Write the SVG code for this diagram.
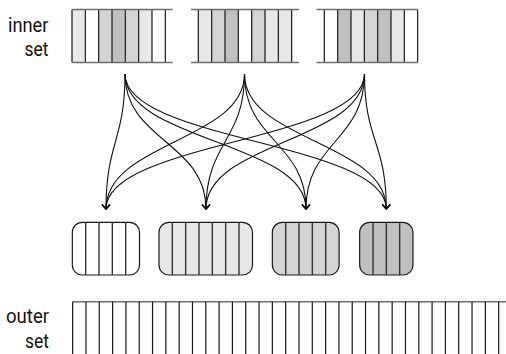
<svg xmlns="http://www.w3.org/2000/svg" width="506" height="354" viewBox="0 0 506 354">
<style>
.lbl{font-family:Roboto,"Liberation Sans",sans-serif;font-size:20px;fill:#111}
.hl{stroke:#6e6e6e;stroke-width:1.6;fill:none}
.vl{stroke:#1a1a1a;stroke-width:1.2;fill:none}
.c0{fill:#ffffff}.c1{fill:#e8e8e8}.c2{fill:#d4d4d4}.c3{fill:#c0c0c0}
.bx{stroke:#1a1a1a;stroke-width:1.2}
.bl{stroke:#333;stroke-width:1.4}
.edge{stroke:#111;stroke-width:1.1;fill:none;marker-end:url(#ah)}
</style>
<defs>
<marker id="ah" markerUnits="userSpaceOnUse" markerWidth="12" markerHeight="12" viewBox="-6 -6 12 12" refX="0" refY="0" orient="auto">
<path d="M-4.5,-4 L0,0 L-4.5,4" fill="none" stroke="#111" stroke-width="1.3"/>
</marker>
</defs>

<text class="lbl" x="48.5" y="31.7" text-anchor="end" textLength="40.5" lengthAdjust="spacingAndGlyphs">inner</text>
<text class="lbl" x="48.5" y="56.2" text-anchor="end" textLength="24" lengthAdjust="spacingAndGlyphs">set</text>
<text class="lbl" x="49" y="323.3" text-anchor="end" textLength="43" lengthAdjust="spacingAndGlyphs">outer</text>
<text class="lbl" x="49" y="347.8" text-anchor="end" textLength="24" lengthAdjust="spacingAndGlyphs">set</text>

<g id="inner1">
<rect class="c1" x="72" y="9.5" width="13.33" height="53"/>
<rect class="c0" x="85.33" y="9.5" width="13.33" height="53"/>
<rect class="c2" x="98.67" y="9.5" width="13.33" height="53"/>
<rect class="c3" x="112" y="9.5" width="13.33" height="53"/>
<rect class="c2" x="125.33" y="9.5" width="13.33" height="53"/>
<rect class="c1" x="138.67" y="9.5" width="13.33" height="53"/>
<rect class="c0" x="152" y="9.5" width="13.33" height="53"/>
<path class="vl" d="M72,9.5V62.5M85.33,9.5V62.5M98.67,9.5V62.5M112,9.5V62.5M125.33,9.5V62.5M138.67,9.5V62.5M152,9.5V62.5M165.33,9.5V62.5"/>
<path class="hl" d="M72,9.5H172.7M72,62.5H172.7"/>
</g>

<g id="inner2">
<rect class="c1" x="198.33" y="9.5" width="13.33" height="53"/>
<rect class="c2" x="211.67" y="9.5" width="13.33" height="53"/>
<rect class="c3" x="225" y="9.5" width="13.33" height="53"/>
<rect class="c0" x="238.33" y="9.5" width="13.33" height="53"/>
<rect class="c2" x="251.67" y="9.5" width="13.33" height="53"/>
<rect class="c1" x="265" y="9.5" width="13.33" height="53"/>
<rect class="c1" x="278.33" y="9.5" width="13.33" height="53"/>
<path class="vl" d="M198.33,9.5V62.5M211.67,9.5V62.5M225,9.5V62.5M238.33,9.5V62.5M251.67,9.5V62.5M265,9.5V62.5M278.33,9.5V62.5M291.67,9.5V62.5"/>
<path class="hl" d="M191,9.5H299M191,62.5H299"/>
</g>

<g id="inner3">
<rect class="c0" x="324.33" y="9.5" width="13.33" height="53"/>
<rect class="c3" x="337.67" y="9.5" width="13.33" height="53"/>
<rect class="c1" x="351" y="9.5" width="13.33" height="53"/>
<rect class="c2" x="364.33" y="9.5" width="13.33" height="53"/>
<rect class="c3" x="377.67" y="9.5" width="13.33" height="53"/>
<rect class="c1" x="391" y="9.5" width="13.33" height="53"/>
<rect class="c0" x="404.33" y="9.5" width="13.33" height="53"/>
<path class="vl" d="M324.33,9.5V62.5M337.67,9.5V62.5M351,9.5V62.5M364.33,9.5V62.5M377.67,9.5V62.5M391,9.5V62.5M404.33,9.5V62.5M417.67,9.5V62.5"/>
<path class="hl" d="M316.7,9.5H417.67M316.7,62.5H417.67"/>
</g>

<g id="edges">
<path class="edge" d="M125,74 C125,141 106,142 106,209"/>
<path class="edge" d="M125,74 C125,141 206,142 206,209"/>
<path class="edge" d="M125,74 C125,141 306,142 306,209"/>
<path class="edge" d="M125,74 C125,141 386.3,142 386.3,209"/>
<path class="edge" d="M244.5,74 C244.5,141 106,142 106,209"/>
<path class="edge" d="M244.5,74 C244.5,141 206,142 206,209"/>
<path class="edge" d="M244.5,74 C244.5,141 306,142 306,209"/>
<path class="edge" d="M244.5,74 C244.5,141 386.3,142 386.3,209"/>
<path class="edge" d="M364.5,74 C364.5,141 106,142 106,209"/>
<path class="edge" d="M364.5,74 C364.5,141 206,142 206,209"/>
<path class="edge" d="M364.5,74 C364.5,141 306,142 306,209"/>
<path class="edge" d="M364.5,74 C364.5,141 386.3,142 386.3,209"/>
</g>

<g id="bucketA">
<rect class="c0 bx" x="72.33" y="222.3" width="67.2" height="52.7" rx="10"/>
<path class="bl" d="M85.67,222.3V275M99,222.3V275M112.33,222.3V275M125.67,222.3V275"/>
</g>
<g id="bucketB">
<rect class="c1 bx" x="159" y="222.3" width="93.5" height="52.7" rx="10"/>
<path class="bl" d="M172.33,222.3V275M185.67,222.3V275M199,222.3V275M212.33,222.3V275M225.67,222.3V275M239,222.3V275"/>
</g>
<g id="bucketC">
<rect class="c2 bx" x="272.33" y="222.3" width="66.8" height="52.7" rx="10"/>
<path class="bl" d="M285.67,222.3V275M299,222.3V275M312.33,222.3V275M325.67,222.3V275"/>
</g>
<g id="bucketD">
<rect class="c3 bx" x="359.67" y="222.3" width="53.3" height="52.7" rx="10"/>
<path class="bl" d="M373,222.3V275M386.33,222.3V275M399.67,222.3V275"/>
</g>

<g id="outer">
<path class="hl" d="M72.67,301.7H506"/>
<path class="vl" d="M72.67,301.7V354M85.98,301.7V354M99.29,301.7V354M112.61,301.7V354M125.92,301.7V354M139.23,301.7V354M152.54,301.7V354M165.86,301.7V354M179.17,301.7V354M192.48,301.7V354M205.79,301.7V354M219.11,301.7V354M232.42,301.7V354M245.73,301.7V354M259.04,301.7V354M272.36,301.7V354M285.67,301.7V354M298.98,301.7V354M312.29,301.7V354M325.61,301.7V354M338.92,301.7V354M352.23,301.7V354M365.54,301.7V354M378.86,301.7V354M392.17,301.7V354M405.48,301.7V354M418.79,301.7V354M432.11,301.7V354M445.42,301.7V354M458.73,301.7V354M472.04,301.7V354M485.36,301.7V354M498.67,301.7V354"/>
</g>
</svg>
